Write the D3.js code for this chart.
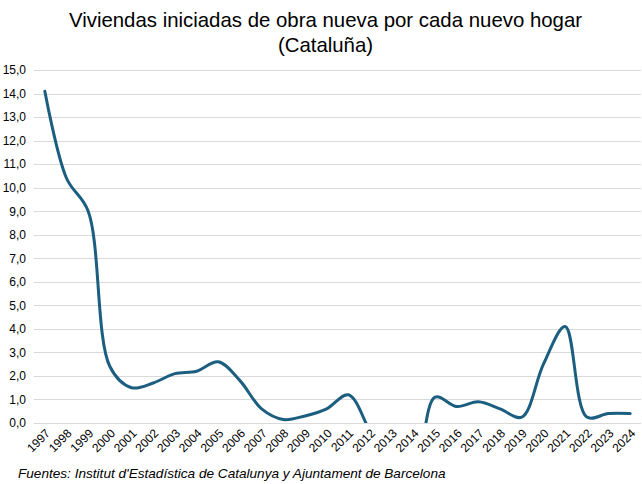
<!DOCTYPE html>
<html>
<head>
<meta charset="utf-8">
<script src="https://cdn.jsdelivr.net/npm/d3@7"></script>
<style>
  html, body { margin: 0; padding: 0; background: #fff; }
  svg { display: block; }
</style>
</head>
<body>
<div id="chart"></div>
<script>
const years = ["1997","1998","1999","2000","2001","2002","2003","2004","2005","2006","2007","2008","2009","2010","2011","2012","2013","2014","2015","2016","2017","2018","2019","2020","2021","2022","2023","2024"];
const values = [14.1, 10.4, 9.0, 2.4, 1.5, 1.7, 2.1, 2.2, 2.6, 1.8, 0.6, 0.15, 0.3, 0.6, 1.2, -0.35, -2.0, -2.0, 1.1, 0.7, 0.9, 0.6, 0.25, 2.5, 4.1, 0.25, 0.4, 0.4];
const yTicks = d3.range(0, 15.01, 1);
const titleLines = ["Viviendas iniciadas de obra nueva por cada nuevo hogar", "(Cataluña)"];
const sourceText = "Fuentes: Institut d'Estadística de Catalunya y Ajuntament de Barcelona";

const W = 642, H = 484;
const m = { left: 34, right: 1, top: 70, bottom: 61 };
const svg = d3.select("#chart").append("svg").attr("width", W).attr("height", H);

const x = d3.scaleBand().domain(years).range([m.left, W - m.right]);
const y = d3.scaleLinear().domain([0, 15]).range([H - m.bottom, m.top]);

// gridlines
svg.append("g").selectAll("line").data(yTicks).join("line")
  .attr("x1", m.left).attr("x2", W - m.right)
  .attr("y1", d => Math.round(y(d)) + 0.5).attr("y2", d => Math.round(y(d)) + 0.5)
  .attr("stroke", "#d9d9d9").attr("stroke-width", 1);

// y axis labels
const yAxis = d3.axisLeft(y).tickValues(yTicks).tickSize(0).tickPadding(0)
  .tickFormat(d => d3.format(".1f")(d).replace(".", ","));
svg.append("g").attr("transform", `translate(${m.left - 8},0)`).call(yAxis)
  .call(g => g.select(".domain").remove())
  .selectAll("text").attr("font-family", "Liberation Sans, Arial, sans-serif")
  .attr("font-size", 12).attr("fill", "#000");

// x axis labels
const xAxis = d3.axisBottom(x).tickSize(0).tickPadding(0);
svg.append("g").attr("transform", `translate(0,${H - m.bottom})`).call(xAxis)
  .call(g => g.select(".domain").remove())
  .selectAll("text")
  .attr("font-family", "Liberation Sans, Arial, sans-serif")
  .attr("font-size", 12).attr("fill", "#000")
  .attr("text-anchor", "end")
  .attr("dy", null).attr("y", 0)
  .attr("transform", "translate(6,11) rotate(-45)");

// clip
svg.append("clipPath").attr("id", "clip").append("rect")
  .attr("x", m.left).attr("y", m.top - 5).attr("width", W - m.left - m.right).attr("height", H - m.bottom - m.top + 5);

const line = d3.line()
  .x((d, i) => x(years[i]) + x.bandwidth() / 2)
  .y(d => y(d))
  .curve(d3.curveCatmullRom.alpha(0.5));

svg.append("path").datum(values)
  .attr("clip-path", "url(#clip)")
  .attr("d", line).attr("fill", "none")
  .attr("stroke", "#1b5e80").attr("stroke-width", 3)
  .attr("stroke-linejoin", "round").attr("stroke-linecap", "round");

// title
svg.append("g").selectAll("text").data(titleLines).join("text")
  .attr("x", 325.5).attr("y", (d, i) => 27 + i * 25)
  .attr("text-anchor", "middle")
  .attr("font-family", "Liberation Sans, Arial, sans-serif")
  .attr("font-size", 20.4).attr("fill", "#000").text(d => d);

// source
svg.append("text").attr("x", 18).attr("y", 478)
  .attr("font-family", "Liberation Sans, Arial, sans-serif")
  .attr("font-style", "italic").attr("font-size", 13.6).attr("fill", "#000")
  .text(sourceText);
</script>
</body>
</html>
